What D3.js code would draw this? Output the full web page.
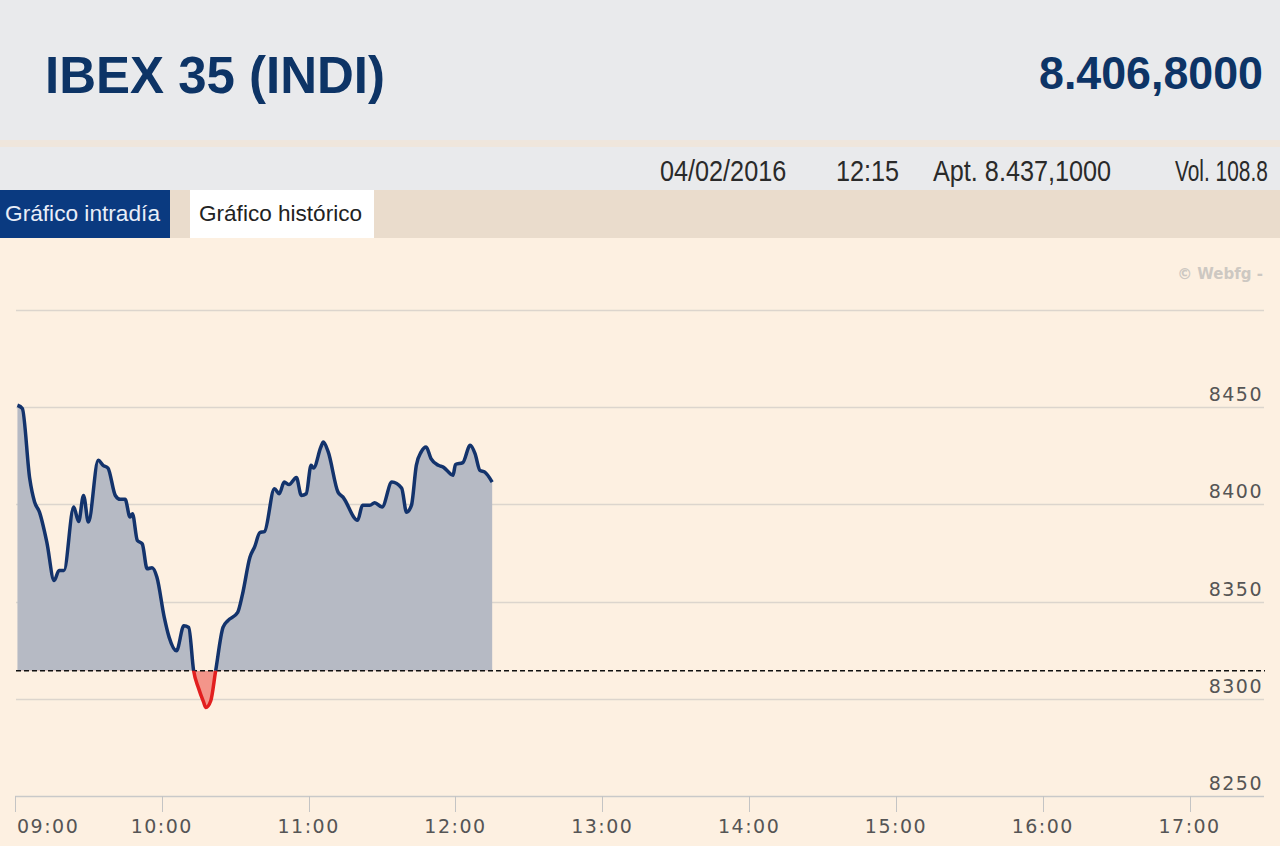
<!DOCTYPE html>
<html>
<head>
<meta charset="utf-8">
<script src="https://cdn.jsdelivr.net/npm/d3@7/dist/d3.min.js"></script>
<style>
  html, body { margin: 0; padding: 0; background: #fdf0e1; overflow: hidden; }
  svg { display: block; }
</style>
</head>
<body>
<svg id="chart" width="1280" height="846"></svg>
<script>
// ---- data ----
const times = ["09:01","09:03","09:06","09:08","09:10","09:13","09:16","09:18","09:20","09:24",
  "09:26","09:28","09:30","09:34","09:36","09:38","09:41","09:43","09:45","09:47",
  "09:48","09:50","09:52","09:54","09:56","09:58","10:01","10:03","10:06","10:09",
  "10:11","10:13","10:15","10:17","10:18","10:20","10:22","10:25","10:27","10:31","10:33","10:36",
  "10:38","10:40","10:42","10:46","10:48","10:50","10:52","10:55","10:57","10:59",
  "11:01","11:02","11:05","11:06","11:08","11:12","11:14","11:20","11:22","11:25",
  "11:27","11:30","11:34","11:38","11:40","11:42","11:44","11:46","11:48","11:50",
  "11:53","11:55","11:59","12:00","12:03","12:06","12:08","12:10","12:12","12:15"];
const values = [8451.0,8449.3,8413.4,8401.2,8396.0,8380.6,8360.8,8366.0,8366.0,8398.6,
  8391.2,8404.6,8390.9,8422.7,8420.1,8418.7,8404.6,8402.6,8402.6,8393.5,
  8395.2,8381.4,8379.7,8366.9,8367.4,8362.5,8341.9,8331.6,8324.7,8337.6,
  8336.7,8314.4,8305.5,8298.5,8295.5,8299.0,8314.4,8336.7,8340.2,8344.5,8354.0,8372.8,
  8378.4,8385.4,8386.1,8408.1,8405.5,8411.5,8410.2,8413.8,8404.6,8405.5,
  8420.1,8418.7,8429.5,8432.1,8427.0,8406.3,8403.8,8391.8,8399.5,8399.5,
  8400.9,8398.6,8411.5,8408.4,8396.0,8399.5,8420.1,8427.0,8429.5,8423.6,
  8420.1,8419.2,8415.0,8420.5,8421.5,8430.4,8426.1,8417.5,8416.6,8411.5];
const previousClose = 8314.4;
const yTicks = [8250, 8300, 8350, 8400, 8450, 8500];
const yLabels = [8250, 8300, 8350, 8400, 8450];
const xTickLabels = ["09:00","10:00","11:00","12:00","13:00","14:00","15:00","16:00","17:00"];
const title = "IBEX 35 (INDI)";
const lastValue = "8.406,8000";
const infoItems = ["04/02/2016", "12:15", "Apt. 8.437,1000", "Vol. 108.8"];
const tabs = ["Gráfico intradía", "Gráfico histórico"];
const watermark = "© Webfg -";

// ---- helpers ----
const parseT = d3.timeParse("%H:%M");
const data = times.map((t, i) => ({ t: parseT(t), v: values[i] }));

const svg = d3.select("#chart");

// ---- page chrome ----
svg.append("rect").attr("x",0).attr("y",0).attr("width",1280).attr("height",140).attr("fill","#e9eaec");
svg.append("rect").attr("x",0).attr("y",140).attr("width",1280).attr("height",7).attr("fill","#efe6dc");
svg.append("rect").attr("x",0).attr("y",147).attr("width",1280).attr("height",43).attr("fill","#e9eaec");
svg.append("rect").attr("x",0).attr("y",190).attr("width",1280).attr("height",48).attr("fill","#eadccc");
svg.append("rect").attr("x",0).attr("y",238).attr("width",1280).attr("height",608).attr("fill","#fdf0e1");

svg.append("text").attr("x",45).attr("y",93)
  .attr("font-family","'Liberation Sans', Arial, sans-serif").attr("font-weight","bold")
  .attr("font-size",52).attr("fill","#0d3466")
  .attr("textLength",340).attr("lengthAdjust","spacingAndGlyphs")
  .text(title);
svg.append("text").attr("x",1263).attr("y",89).attr("text-anchor","end")
  .attr("font-family","'Liberation Sans', Arial, sans-serif").attr("font-weight","bold")
  .attr("font-size",46).attr("fill","#0d3466")
  .attr("textLength",224).attr("lengthAdjust","spacingAndGlyphs")
  .text(lastValue);

// info bar: condensed text via horizontal scale
const infoPos = [1, 836, 933, 1175];
const infoX = [660, 836, 933, 1175];
const infoScale = [0.87, 0.87, 0.87, 0.72];
infoItems.forEach((s, i) => {
  svg.append("text")
    .attr("transform", `translate(${infoX[i]},181) scale(${infoScale[i]},1)`)
    .attr("font-family","'Liberation Sans', Arial, sans-serif")
    .attr("font-size",29).attr("fill","#2a2a2a")
    .text(s);
});

// tabs
svg.append("rect").attr("x",0).attr("y",190).attr("width",170).attr("height",48).attr("fill","#0a3a80");
svg.append("rect").attr("x",190).attr("y",190).attr("width",184).attr("height",48).attr("fill","#ffffff");
svg.append("text").attr("x",5).attr("y",221)
  .attr("font-family","'Liberation Sans', Arial, sans-serif").attr("font-size",22).attr("fill","#e8eef8")
  .attr("textLength",155).attr("lengthAdjust","spacingAndGlyphs").text(tabs[0]);
svg.append("text").attr("x",199).attr("y",221)
  .attr("font-family","'Liberation Sans', Arial, sans-serif").attr("font-size",22).attr("fill","#222")
  .attr("textLength",163).attr("lengthAdjust","spacingAndGlyphs").text(tabs[1]);

// watermark
svg.append("text").attr("x",1263).attr("y",279).attr("text-anchor","end")
  .attr("font-family","'DejaVu Sans', sans-serif").attr("font-weight","bold")
  .attr("font-size",15).attr("fill","#cdc8c2").text(watermark);

// ---- scales ----
const x = d3.scaleTime()
  .domain([parseT("09:00"), parseT("17:30")])
  .range([15, 1263]);
const y = d3.scaleLinear().domain([8250, 8500]).range([796, 310]);

// gridlines
const g = svg.append("g");
g.selectAll("line.grid").data(yTicks.filter(v => v !== 8250)).join("line")
  .attr("class","grid")
  .attr("x1",16).attr("x2",1264)
  .attr("y1", d => Math.round(y(d)) + 0.5).attr("y2", d => Math.round(y(d)) + 0.5)
  .attr("stroke","#dcd5cd").attr("stroke-width",1.5);

// clip paths
const defs = svg.append("defs");
defs.append("clipPath").attr("id","above").append("rect")
  .attr("x",0).attr("y",0).attr("width",1280).attr("height", y(previousClose));
defs.append("clipPath").attr("id","below").append("rect")
  .attr("x",0).attr("y", y(previousClose)).attr("width",1280).attr("height", 846 - y(previousClose));

const area = d3.area().x(d => x(d.t)).y0(y(previousClose)).y1(d => y(d.v)).curve(d3.curveMonotoneX);
const line = d3.line().x(d => x(d.t)).y(d => y(d.v)).curve(d3.curveMonotoneX);

svg.append("path").datum(data).attr("d", area).attr("fill","#b6bac4").attr("clip-path","url(#above)");
svg.append("path").datum(data).attr("d", area).attr("fill","#f3958a").attr("clip-path","url(#below)");

// y labels
svg.append("g").selectAll("text").data(yLabels).join("text")
  .attr("x",1263).attr("y", d => y(d) - 6).attr("text-anchor","end")
  .attr("font-family","'DejaVu Sans', sans-serif").attr("font-size",19)
  .attr("letter-spacing","1.5px").attr("fill","#555")
  .text(d => d);

// x axis
const xAxisG = svg.append("g").attr("transform", `translate(0,${Math.round(y(8250))})`);
xAxisG.append("line").attr("x1",15).attr("x2",1264).attr("y1",0.5).attr("y2",0.5)
  .attr("stroke","#c9c9c9").attr("stroke-width",1.5);
const hourTicks = xTickLabels.map(parseT);
xAxisG.selectAll("line.tick").data(hourTicks).join("line").attr("class","tick")
  .attr("x1", d => Math.round(x(d)) + 0.5).attr("x2", d => Math.round(x(d)) + 0.5)
  .attr("y1",0).attr("y2",16).attr("stroke","#c4c4c4").attr("stroke-width",1);
xAxisG.selectAll("text").data(hourTicks).join("text")
  .attr("x", (d, i) => i === 0 ? x(d) + 2 : x(d))
  .attr("y", 37)
  .attr("text-anchor", (d, i) => i === 0 ? "start" : "middle")
  .attr("font-family","'DejaVu Sans', sans-serif").attr("font-size",19)
  .attr("letter-spacing","1.5px").attr("fill","#555")
  .text(d => d3.timeFormat("%H:%M")(d));

// reference (previous close) dashed line
svg.append("line").attr("x1",16).attr("x2",1265)
  .attr("y1", y(previousClose)).attr("y2", y(previousClose))
  .attr("stroke","#111").attr("stroke-width",1.5).attr("stroke-dasharray","5,3");

// price line
svg.append("path").datum(data).attr("d", line).attr("fill","none")
  .attr("stroke","#13336c").attr("stroke-width",3.5).attr("stroke-linejoin","round")
  .attr("clip-path","url(#above)");
svg.append("path").datum(data).attr("d", line).attr("fill","none")
  .attr("stroke","#e21f1f").attr("stroke-width",3.5).attr("stroke-linejoin","round")
  .attr("clip-path","url(#below)");
</script>
</body>
</html>
